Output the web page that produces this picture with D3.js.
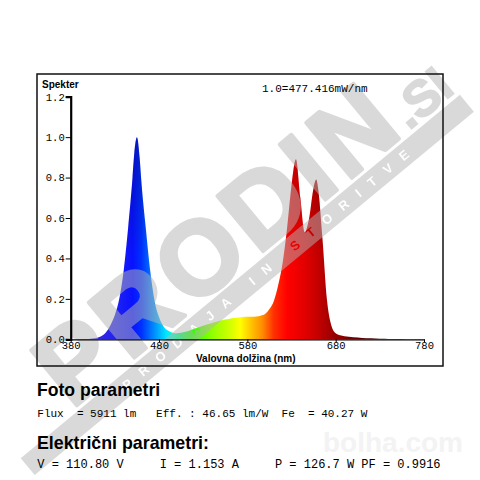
<!DOCTYPE html>
<html>
<head>
<meta charset="utf-8">
<script src="https://cdn.jsdelivr.net/npm/d3@7"></script>
<style>
  html, body { margin: 0; padding: 0; background: #fff; }
  svg { display: block; }
  text { white-space: pre; }
</style>
</head>
<body>
<script>
// ---------------- DATA ----------------
const wavelengths = [380,385,390,395,400,405,410,415,420,425,430,435,440,445,450,452,455,458,460,465,470,475,480,485,490,495,500,505,510,515,520,525,530,535,540,545,550,555,560,565,570,575,580,585,590,595,600,605,610,615,620,625,630,635,640,645,650,655,658,660,665,670,675,680,685,690,695,700,710,720,730,740,750,760,770,780];
const intensity   = [0,0,0,0.001,0.002,0.004,0.008,0.016,0.035,0.07,0.12,0.2,0.34,0.55,0.8,0.92,1.0,0.9,0.78,0.55,0.34,0.19,0.11,0.065,0.043,0.033,0.03,0.032,0.037,0.044,0.052,0.06,0.067,0.074,0.081,0.087,0.093,0.098,0.102,0.105,0.108,0.11,0.111,0.112,0.113,0.117,0.125,0.15,0.19,0.27,0.38,0.55,0.76,0.89,0.7,0.53,0.6,0.75,0.79,0.75,0.5,0.2,0.07,0.03,0.02,0.015,0.012,0.01,0.007,0.005,0.003,0.002,0.001,0,0,0];

const xTicks = [380,480,580,680,780];
const yTicks = [0,0.2,0.4,0.6,0.8,1.0,1.2];

const stopNm    = [380,400,430,450,460,470,480,488,495,505,515,540,560,572,585,597,610,625,645,660,675,700,720,750,780];
const stopColor = ["#4a30c8","#3a2ad0","#2222f0","#0812ff","#0030ff","#0070ff","#00b0ff","#00e6ff","#00ffd0","#00ff60","#20ff00","#90ff00","#d0ff00","#ffff00","#ffc000","#ff8c00","#ff3000","#ff0000","#e20000","#c40000","#a00000","#700000","#420000","#100000","#000000"];

const chartTitle = "Spekter";
const unitNote = "1.0=477.416mW/nm";
const xLabel = "Valovna dolžina (nm)";
const heading1 = "Foto parametri";
const line1 = "Flux  = 5911 lm   Eff. : 46.65 lm/W  Fe  = 40.27 W";
const heading2 = "Električni parametri:";
const line2 = "V = 110.80 V     I = 1.153 A     P = 126.7 W PF = 0.9916";
const wmBig = "PRODIN";
const wmSmall = ".SI";
const wmBand = "PRODAJA IN STORITVE";
const wmSite = "bolha.com";

// ---------------- DRAW ----------------
const W = 480, H = 480;
const svg = d3.select("body").append("svg").attr("width", W).attr("height", H);
svg.append("rect").attr("width", W).attr("height", H).attr("fill", "#fff");

const x = d3.scaleLinear().domain([380, 780]).range([70.7, 424]);
const y = d3.scaleLinear().domain([0, 1.2]).range([339.3, 96.7]);

const defs = svg.append("defs");
const g1 = defs.append("linearGradient").attr("id", "spec")
  .attr("gradientUnits", "userSpaceOnUse")
  .attr("x1", x(380)).attr("x2", x(780)).attr("y1", 0).attr("y2", 0);
stopNm.forEach((nm, i) => {
  g1.append("stop").attr("offset", (nm - 380) / 400).attr("stop-color", stopColor[i]);
});
const g2 = defs.append("linearGradient").attr("id", "shade")
  .attr("gradientUnits", "userSpaceOnUse")
  .attr("x1", 0).attr("x2", 0).attr("y1", y(1.0)).attr("y2", y(0.4));
g2.append("stop").attr("offset", 0).attr("stop-color", "#000").attr("stop-opacity", 0.25);
g2.append("stop").attr("offset", 1).attr("stop-color", "#000").attr("stop-opacity", 0);

const data = wavelengths.map((w, i) => [w, intensity[i]]);
const area = d3.area()
  .x(d => x(d[0])).y0(y(0)).y1(d => y(d[1]))
  .curve(d3.curveMonotoneX);

const sans = "Liberation Sans, Arial, sans-serif";
const mono = "Liberation Mono, Courier New, monospace";

// bolha watermark (very faint, behind)
svg.append("text").attr("x", 323).attr("y", 452)
  .attr("font-family", sans).attr("font-weight", "bold")
  .attr("font-size", 28).attr("fill", "#f3f3f3").text(wmSite);

svg.append("path").datum(data).attr("d", area).attr("fill", "url(#spec)");
svg.append("path").datum(data).attr("d", area).attr("fill", "url(#shade)");

// PRODIN watermark
const ang = -39.6, ox = 20, oy = 473;
const mask = defs.append("mask").attr("id", "bandMask").attr("maskUnits", "userSpaceOnUse")
  .attr("x", -100).attr("y", -200).attr("width", 800).attr("height", 400);
mask.append("rect").attr("x", -100).attr("y", -200).attr("width", 800).attr("height", 400).attr("fill", "#fff");
mask.append("text").attr("x", 135).attr("y", 4.5)
  .attr("font-family", sans).attr("font-weight", "bold")
  .attr("font-size", 13).attr("fill", "#000").attr("letter-spacing", 12.2).text(wmBand);

const wm = svg.append("g").attr("transform", `translate(${ox},${oy}) rotate(${ang})`)
  .attr("opacity", 0.5);
wm.append("rect").attr("x", 10).attr("y", -11).attr("width", 570).attr("height", 22)
  .attr("fill", "#b4b4b4").attr("mask", "url(#bandMask)");
wm.append("text").attr("x", 80).attr("y", -16)
  .attr("font-family", sans).attr("font-weight", "bold")
  .attr("font-size", 104).attr("fill", "#b4b4b4")
  .attr("stroke", "#b4b4b4").attr("stroke-width", 4).attr("stroke-linejoin", "round")
  .attr("textLength", 432).attr("lengthAdjust", "spacing").text(wmBig);
wm.append("text").attr("x", 518).attr("y", -16)
  .attr("font-family", sans).attr("font-weight", "bold")
  .attr("font-size", 50).attr("fill", "#b4b4b4")
  .attr("stroke", "#b4b4b4").attr("stroke-width", 2).text(wmSmall);

// frame
svg.append("rect").attr("x", 37).attr("y", 74).attr("width", 406).attr("height", 292)
  .attr("fill", "none").attr("stroke", "#111").attr("stroke-width", 1.5);

// axes
const yAxis = svg.append("g").attr("transform", `translate(${x(380)},0)`)
  .call(d3.axisLeft(y).tickValues(yTicks).tickSize(5).tickFormat(d3.format(".1f")));
yAxis.select(".domain").attr("stroke", "#000").attr("stroke-width", 2.2);
yAxis.selectAll(".tick line").attr("stroke", "#000");
yAxis.selectAll(".tick text").attr("font-family", mono).attr("font-size", 10.5)
  .attr("fill", "#000").attr("x", -6);

const xAxis = svg.append("g").attr("transform", `translate(0,${y(0)})`)
  .call(d3.axisBottom(x).tickValues(xTicks).tickSize(3).tickSizeOuter(0).tickFormat(d3.format("d")));
xAxis.select(".domain").attr("stroke", "#000").attr("stroke-width", 1.3);
xAxis.selectAll(".tick line").attr("stroke", "#000");
xAxis.selectAll(".tick text").attr("font-family", mono).attr("font-size", 10.5)
  .attr("fill", "#000").attr("y", 2.5);

// chart texts
svg.append("text").attr("x", 42).attr("y", 88)
  .attr("font-family", sans).attr("font-weight", "bold")
  .attr("font-size", 10).attr("fill", "#000").text(chartTitle);
svg.append("text").attr("x", 262).attr("y", 92)
  .attr("font-family", mono).attr("font-size", 11).attr("fill", "#000").text(unitNote);
svg.append("text").attr("x", 196).attr("y", 361.5)
  .attr("font-family", sans).attr("font-weight", "bold")
  .attr("font-size", 10).attr("fill", "#000").text(xLabel);

// parameter texts
svg.append("text").attr("x", 37).attr("y", 396)
  .attr("font-family", sans).attr("font-weight", "bold")
  .attr("font-size", 17.6).attr("fill", "#000").text(heading1);
svg.append("text").attr("x", 37.3).attr("y", 417)
  .attr("font-family", mono).attr("font-size", 11).attr("fill", "#000").text(line1);
svg.append("text").attr("x", 37).attr("y", 449)
  .attr("font-family", sans).attr("font-weight", "bold")
  .attr("font-size", 17.8).attr("fill", "#000").text(heading2);
svg.append("text").attr("x", 37.3).attr("y", 468)
  .attr("font-family", mono).attr("font-size", 12).attr("fill", "#000").text(line2);
</script>
</body>
</html>
